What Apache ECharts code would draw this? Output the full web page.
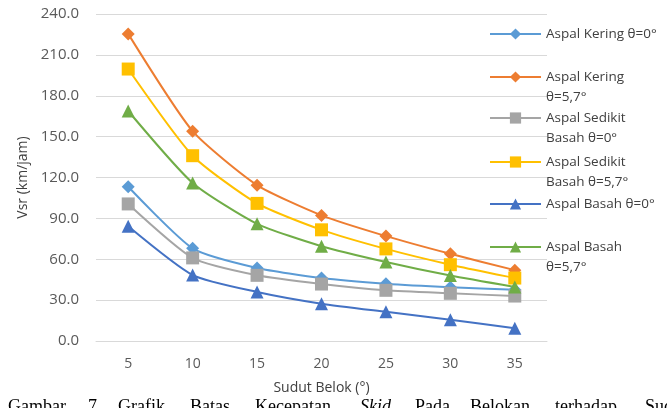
<!DOCTYPE html>
<html>
<head>
<meta charset="utf-8">
<script src="https://cdn.jsdelivr.net/npm/echarts@6/dist/echarts.min.js"></script>
<style>html,body{margin:0;padding:0;background:#fff;}#chart{width:667px;height:408px;}</style>
</head>
<body>
<div id="chart"></div>
<script>
var categories = ['5', '10', '15', '20', '25', '30', '35'];
var seriesNames = ['Aspal Kering θ=0°', 'Aspal Kering θ=5,7°', 'Aspal Sedikit Basah θ=0°', 'Aspal Sedikit Basah θ=5,7°', 'Aspal Basah θ=0°', 'Aspal Basah θ=5,7°'];
var legendLines = [['Aspal Kering θ=0°'], ['Aspal Kering', 'θ=5,7°'], ['Aspal Sedikit', 'Basah θ=0°'], ['Aspal Sedikit', 'Basah θ=5,7°'], ['Aspal Basah θ=0°'], ['Aspal Basah', 'θ=5,7°']];
var keringTheta0 = [113.2, 68.0, 53.6, 46.2, 42.0, 39.4, 37.6];
var keringTheta57 = [225.4, 154.0, 114.4, 92.2, 77.0, 64.0, 52.0];
var sedikitBasahTheta0 = [100.6, 61.0, 48.2, 41.8, 37.2, 35.0, 33.0];
var sedikitBasahTheta57 = [199.6, 136.0, 101.0, 81.6, 67.6, 56.0, 46.2];
var basahTheta0 = [84.2, 48.4, 36.0, 27.4, 21.4, 15.6, 9.4];
var basahTheta57 = [168.8, 116.0, 86.0, 69.6, 58.0, 48.0, 39.6];
var yTicks = {min: 0, max: 240, interval: 30};
var captionWords = ['Gambar', '7.', 'Grafik', 'Batas', 'Kecepatan', 'Skid', 'Pada', 'Belokan', 'terhadap', 'Sudut'];

var dataSets = [keringTheta0, keringTheta57, sedikitBasahTheta0, sedikitBasahTheta57, basahTheta0, basahTheta57];
var colors = ['#5B9BD5', '#ED7D31', '#A5A5A5', '#FFC000', '#4472C4', '#70AD47'];
var symbols = ['diamond', 'diamond', 'rect', 'rect', 'triangle', 'triangle'];
var symbolSizes = [13, 13, 13, 13, 13, 13];
var legendIconY = [34, 77, 118, 162, 204, 247];
var captionX = [8, 88, 118, 190, 255, 360, 415, 470, 555, 645];

var font = '"Open Sans", sans-serif';
var series = dataSets.map(function (d, i) {
  return {
    name: seriesNames[i], type: 'line', data: d, smooth: 0.2,
    symbol: symbols[i], symbolSize: symbolSizes[i], showSymbol: true,
    lineStyle: {color: colors[i], width: 2},
    itemStyle: {color: colors[i]}
  };
});
var legends = seriesNames.map(function (n, i) {
  var two = legendLines[i].length > 1;
  return {
    data: [n], orient: 'vertical', left: 489, top: legendIconY[i] - (two ? 30 : 10), padding: 0,
    itemWidth: 51, itemHeight: 14, selectedMode: false,
    formatter: function () { return two ? ' \n' + legendLines[i].join('\n') : legendLines[i][0]; },
    textStyle: {fontFamily: font, fontSize: 13.5, color: '#404040', lineHeight: 20}
  };
});
var graphics = captionWords.map(function (w, i) {
  return {type: 'text', left: captionX[i], top: 398, style: {text: w, font: (w === 'Skid' ? 'italic ' : '') + '18px "Liberation Serif", serif', fill: '#000'}};
});
var chart = echarts.init(document.getElementById('chart'));
chart.setOption({
  backgroundColor: '#fff',
  animation: false,
  color: colors,
  grid: {left: 96, right: 120, top: 14, bottom: 67},
  legend: legends,
  xAxis: {
    type: 'category', data: categories, boundaryGap: true,
    name: 'Sudut Belok (°)', nameLocation: 'middle', nameGap: 40,
    nameTextStyle: {fontFamily: font, fontSize: 14, color: '#404040'},
    axisLine: {show: true, lineStyle: {color: '#D9D9D9', width: 1}},
    axisTick: {show: false},
    axisLabel: {fontFamily: font, fontSize: 14, color: '#595959', margin: 16}
  },
  yAxis: {
    type: 'value', min: yTicks.min, max: yTicks.max, interval: yTicks.interval,
    name: 'Vsr (km/jam)', nameLocation: 'middle', nameGap: 66, nameRotate: 90,
    nameTextStyle: {fontFamily: font, fontSize: 14, color: '#404040'},
    axisLine: {show: false}, axisTick: {show: false},
    axisLabel: {fontFamily: font, fontSize: 15, color: '#595959', margin: 17, formatter: function (v) { return v.toFixed(1); }},
    splitLine: {lineStyle: {color: '#D9D9D9', width: 1}}
  },
  graphic: graphics,
  series: series
});
</script>
</body>
</html>
